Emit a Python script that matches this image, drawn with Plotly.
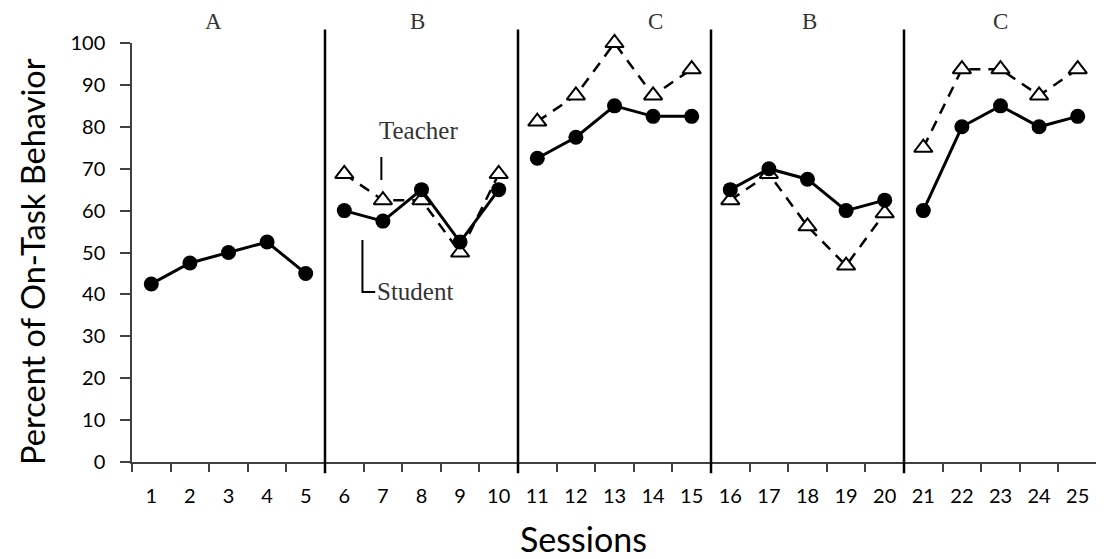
import plotly.graph_objects as go

sessions = list(range(1, 26))
student = [42.5, 47.5, 50, 52.5, 45,
           60, 57.5, 65, 52.5, 65,
           72.5, 77.5, 85, 82.5, 82.5,
           65, 70, 67.5, 60, 62.5,
           60, 80, 85, 80, 82.5]
teacher = [None, None, None, None, None,
           68.75, 62.5, 62.5, 50, 68.75,
           81.25, 87.5, 100, 87.5, 93.75,
           62.5, 68.75, 56.25, 46.875, 59.375,
           75, 93.75, 93.75, 87.5, 93.75]
phase_labels = ["A", "B", "C", "B", "C"]
phase_label_x = [2.6, 7.9, 14.05, 18.05, 23.0]
phase_starts = [1, 6, 11, 16, 21]
phase_ends = [5, 10, 15, 20, 25]
y_ticks = list(range(0, 101, 10))

fig = go.Figure()

for s, e in zip(phase_starts, phase_ends):
    xs = [x for x in sessions if s <= x <= e]
    ts = [teacher[x - 1] for x in xs]
    if any(v is not None for v in ts):
        fig.add_trace(go.Scatter(
            x=xs, y=ts, mode="lines+markers", cliponaxis=False,
            line=dict(color="black", width=2.5, dash="11px,8px"),
            marker=dict(symbol="triangle-up", size=16, color="white",
                        line=dict(color="black", width=2)),
            showlegend=False, hoverinfo="skip"))
    ss = [student[x - 1] for x in xs]
    fig.add_trace(go.Scatter(
        x=xs, y=ss, mode="lines+markers", cliponaxis=False,
        line=dict(color="black", width=3),
        marker=dict(symbol="circle", size=15, color="black"),
        showlegend=False, hoverinfo="skip"))

# phase change lines
for e in phase_ends[:-1]:
    fig.add_shape(type="line", xref="x", yref="paper",
                  x0=e + 0.5, x1=e + 0.5, y0=-0.027, y1=1.032,
                  line=dict(color="black", width=2.5))

# phase labels
for lab, px in zip(phase_labels, phase_label_x):
    fig.add_annotation(x=px, xref="x", y=1.051, yref="paper", text=lab,
                       showarrow=False, xanchor="center", yanchor="middle",
                       font=dict(family="Liberation Serif", size=23, color="#333"))

# Teacher / Student callouts
fig.add_annotation(x=7.93, y=79, text="Teacher", showarrow=False,
                   xanchor="center", yanchor="middle",
                   font=dict(family="Liberation Serif", size=25, color="#333"))
fig.add_shape(type="line", x0=6.96, x1=6.96, y0=67.3, y1=72.8,
              line=dict(color="black", width=2))
fig.add_annotation(x=6.8, y=40.6, text="Student", showarrow=False,
                   xanchor="left", yanchor="middle",
                   font=dict(family="Liberation Serif", size=25, color="#333"))
fig.add_shape(type="path", path="M 6.47 53 L 6.47 40.6 L 6.8 40.6",
              line=dict(color="black", width=2))

fig.add_annotation(x=-0.103, xref="paper", y=0.479, yref="paper",
                   text="Percent of On-Task Behavior", textangle=-90,
                   showarrow=False, xanchor="center", yanchor="middle",
                   font=dict(family="Lato", size=32.6, color="black"))
fig.add_annotation(x=0.468, xref="paper", y=-0.183, yref="paper",
                   text="Sessions", showarrow=False,
                   xanchor="center", yanchor="middle",
                   font=dict(family="Lato", size=34, color="black"))

fig.update_xaxes(range=[0.5, 25.5], tickmode="array", tickvals=sessions,
                 ticks="outside", ticklen=8, tickcolor="rgba(0,0,0,0)",
                 tickfont=dict(family="Lato", size=20, color="black"),
                 showline=True, linecolor="#404040", linewidth=1.5,
                 showgrid=False, zeroline=False, ticklabelstandoff=7,
                 minor=dict(tickmode="linear", tick0=0.5, dtick=1,
                            ticks="outside", ticklen=8, tickcolor="#404040",
                            tickwidth=1.5, showgrid=False))
fig.update_yaxes(range=[0, 100], tickmode="array", tickvals=y_ticks,
                 ticks="outside", ticklen=10, tickcolor="#404040", tickwidth=1.5,
                 tickfont=dict(family="Lato", size=20, color="black"),
                 showline=True, linecolor="#404040", linewidth=1.5,
                 showgrid=False, zeroline=False, ticklabelstandoff=11)

# the page places the figure 8px in from the top-left corner
fig.update_layout(width=1104, height=559,
                  margin=dict(l=124, r=15, t=35, b=105),
                  paper_bgcolor="white", plot_bgcolor="white")

fig.write_html("out.html")
